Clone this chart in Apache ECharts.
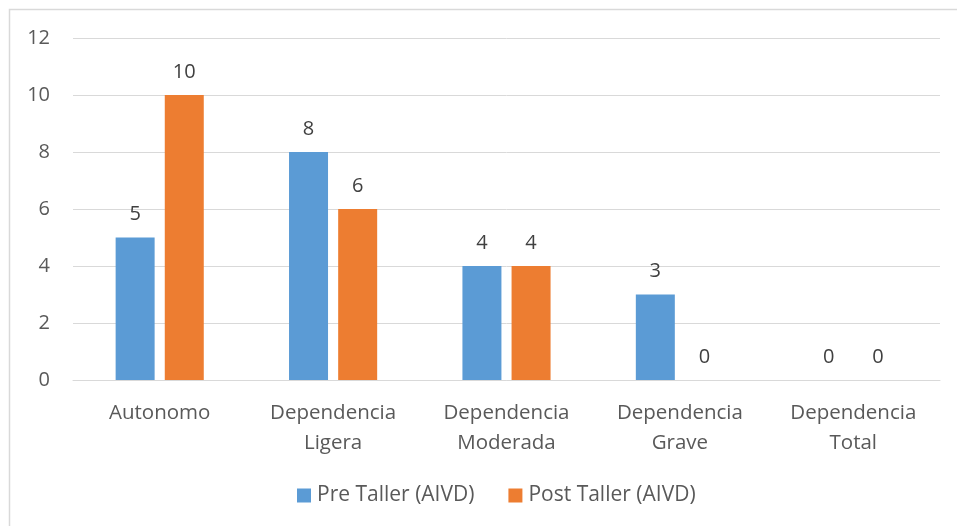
<!DOCTYPE html>
<html><head><meta charset="utf-8">
<script src="https://cdn.jsdelivr.net/npm/echarts@6/dist/echarts.min.js"></script>
<style>html,body{margin:0;padding:0;background:#fff}#c{width:957px;height:526px}</style>
</head><body><div id="c"></div>
<script>
const categories = ['Autonomo', 'Dependencia\nLigera', 'Dependencia\nModerada', 'Dependencia\nGrave', 'Dependencia\nTotal'];
const preTaller = [5, 8, 4, 3, 0];
const postTaller = [10, 6, 4, 0, 0];
const seriesNames = ['Pre Taller (AIVD)', 'Post Taller (AIVD)'];
const yTicks = [0, 2, 4, 6, 8, 10, 12];

const FONT = 'Open Sans';
const chart = echarts.init(document.getElementById('c'));
chart.setOption({
  animation: false,
  textStyle: { fontFamily: FONT },
  graphic: [{ type: 'rect', shape: { x: 9.5, y: 9.5, width: 1200, height: 800 }, style: { fill: 'none', stroke: '#D9D9D9', lineWidth: 1.5 }, silent: true }],
  grid: { left: 73, right: 17, top: 38, bottom: 146, containLabel: false },
  legend: {
    bottom: 15, left: 292, itemWidth: 14, itemHeight: 14, itemGap: 34,
    icon: 'rect',
    textStyle: { fontFamily: FONT, fontSize: 21, color: '#595959', padding: [0, 0, 0, 1] },
    data: seriesNames
  },
  xAxis: {
    type: 'category', data: categories,
    axisLine: { lineStyle: { color: '#D9D9D9', width: 1 } },
    axisTick: { show: false },
    axisLabel: { fontFamily: FONT, fontSize: 20.5, color: '#595959', margin: 18, lineHeight: 30, interval: 0 }
  },
  yAxis: {
    type: 'value', min: yTicks[0], max: yTicks[yTicks.length - 1], interval: 2,
    axisLine: { show: false }, axisTick: { show: false },
    splitLine: { lineStyle: { color: '#D9D9D9', width: 1 } },
    axisLabel: { fontFamily: FONT, fontSize: 20, color: '#595959', margin: 23 }
  },
  series: [
    { name: seriesNames[0], type: 'bar', data: preTaller, barWidth: 39, barGap: '26%',
      itemStyle: { color: '#5B9BD5' },
      label: { show: true, position: 'top', distance: 13, fontFamily: FONT, fontSize: 20, color: '#404040' } },
    { name: seriesNames[1], type: 'bar', data: postTaller, barWidth: 39,
      itemStyle: { color: '#ED7D31' },
      label: { show: true, position: 'top', distance: 13, fontFamily: FONT, fontSize: 20, color: '#404040' } }
  ]
});
</script></body></html>
